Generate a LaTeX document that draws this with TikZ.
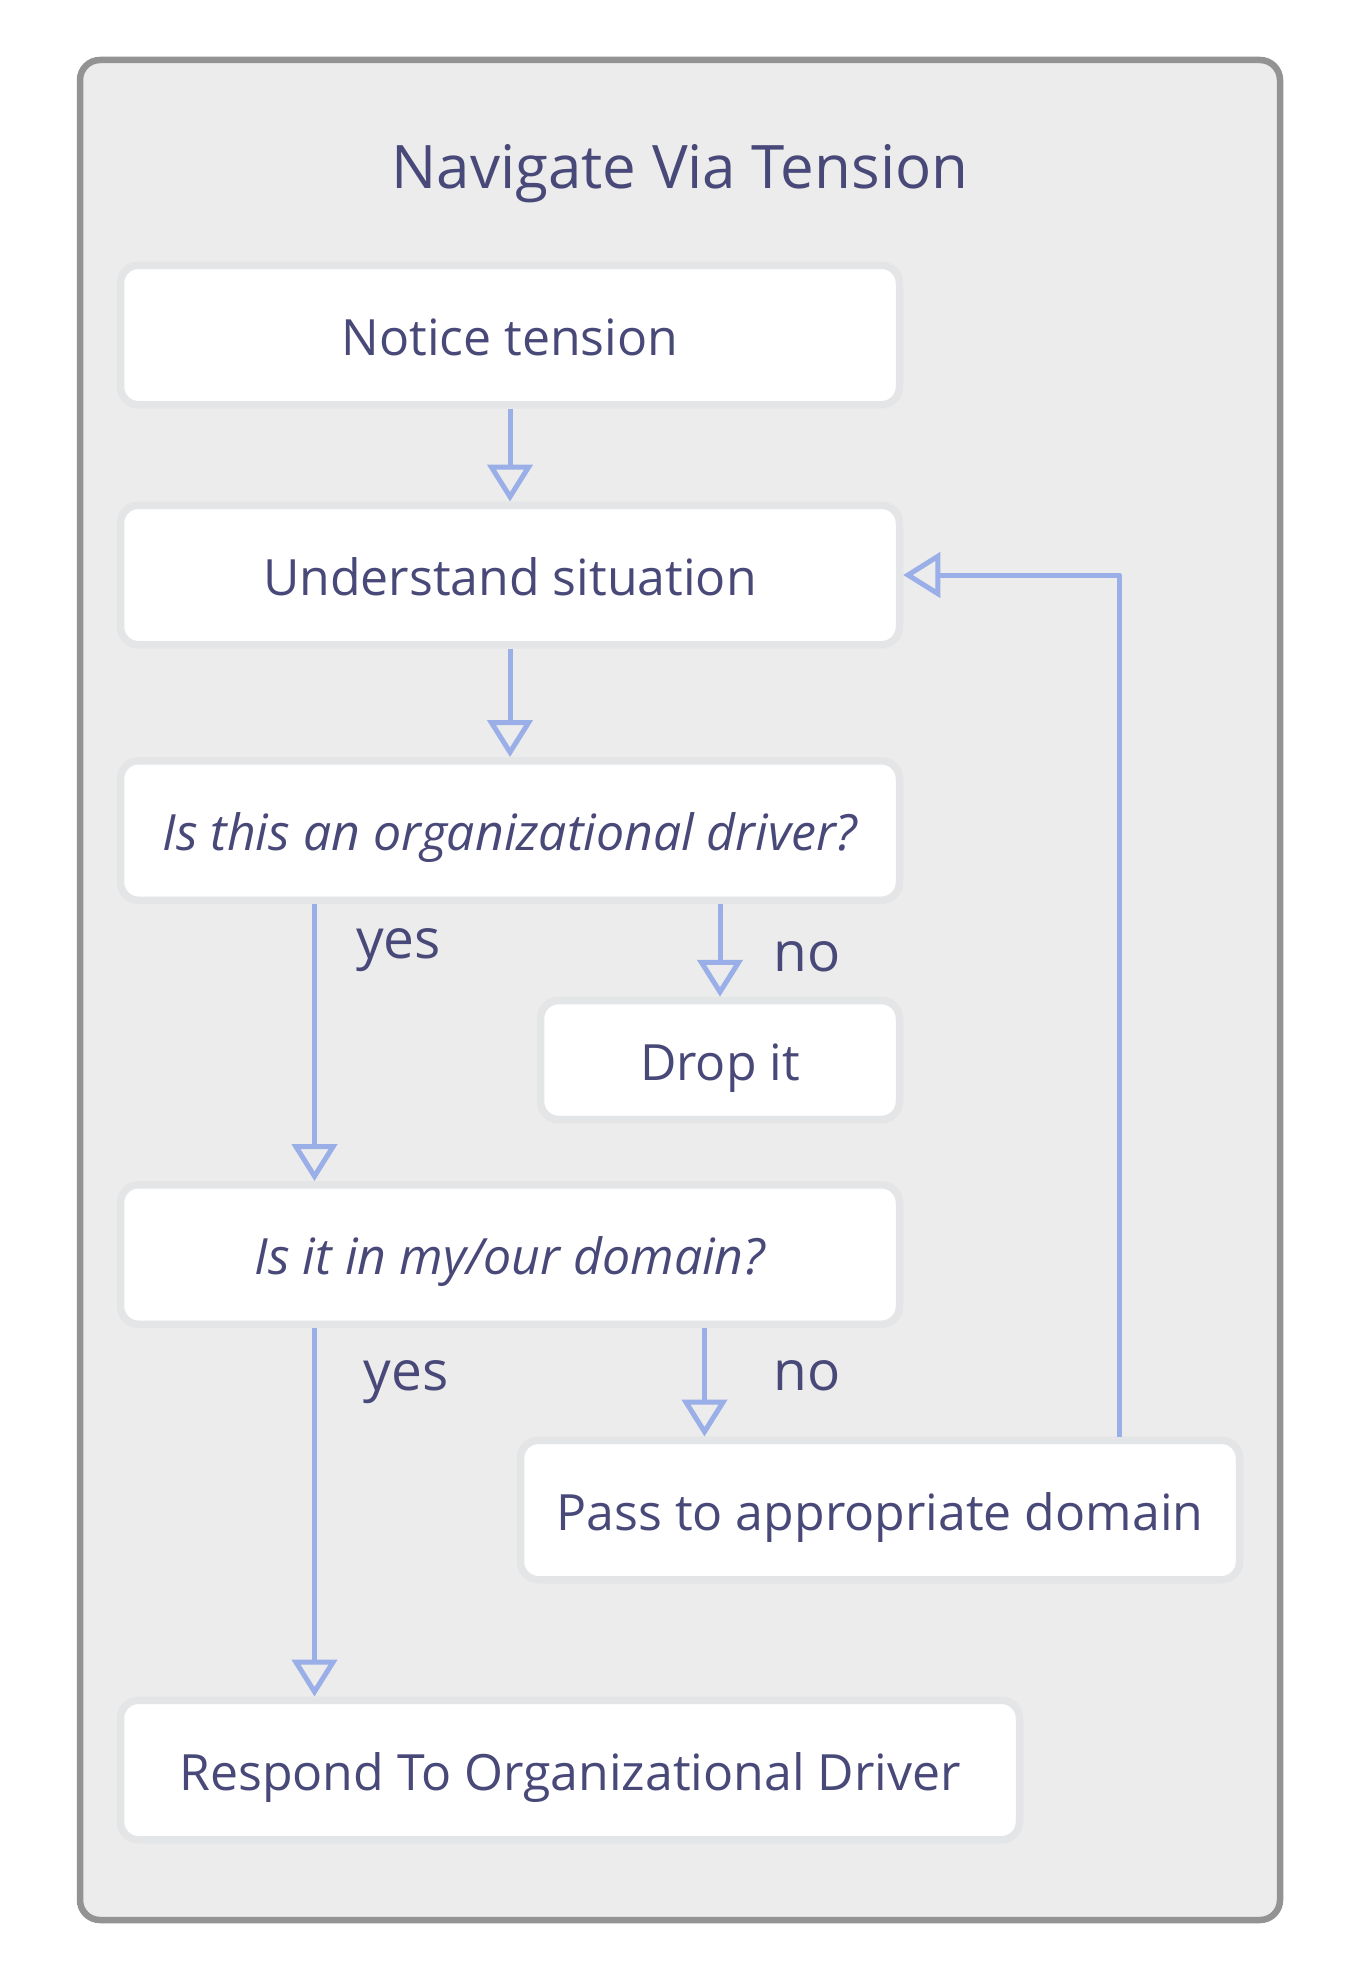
\documentclass[tikz,border=0pt]{standalone}
\usepackage{fontspec}
\setmainfont{Open Sans}
\usetikzlibrary{arrows.meta,calc}
\definecolor{txt}{HTML}{494979}
\definecolor{arrc}{HTML}{9AAEE8}
\definecolor{framefill}{HTML}{ECECEC}
\definecolor{framedraw}{HTML}{939393}
\definecolor{boxline}{HTML}{E4E5E7}
\tikzset{
  stepbox/.style={draw=boxline, fill=white, line width=7.5pt, rounded corners=18pt,
    inner sep=0pt, minimum height=139.5pt, text=txt,
    font=\fontsize{50}{60}\selectfont, text height=40pt, text depth=0pt},
  qbox/.style={stepbox, font=\fontsize{50}{60}\selectfont\itshape},
  arr/.style={draw=arrc, line width=5pt, line join=round,
    -{Triangle[open, length=37pt, width=45pt]}},
  lbl/.style={text=txt, font=\fontsize{55}{66}\selectfont, anchor=base, inner sep=0pt},
}
\begin{document}
\begin{tikzpicture}[x=1pt,y=-1pt]
\useasboundingbox (0,0) rectangle (1360,1980);
\fill[white] (0,0) rectangle (1360,1980);
\draw[framedraw, fill=framefill, line width=6.5pt, rounded corners=20pt] (80,60) rectangle (1280,1920);
\node[text=txt, font=\fontsize{60}{72}\selectfont, anchor=base, inner sep=0pt] (title) at (680,189) {Navigate Via Tension};

\node[stepbox, minimum width=779pt] (notice) at (510,335) {Notice tension};
\node[stepbox, minimum width=779pt] (understand) at (510,575) {Understand situation};
\node[qbox, minimum width=779pt] (q1) at (510,830.5) {Is this an organizational driver?};
\node[stepbox, minimum width=359pt, minimum height=119pt] (drop) at (720,1060) {Drop it};
\node[qbox, minimum width=779pt] (q2) at (510,1254.5) {Is it in my/our domain?};
\node[stepbox, minimum width=719pt] (pass) at (880,1510) {Pass to appropriate domain};
\node[stepbox, minimum width=899pt] (respond) at (570,1770) {Respond To Organizational Driver};

\coordinate (yesx) at (314.5,0);
\coordinate (nox) at (704.5,0);
\coordinate (fbx) at (1119.5,0);

\draw[arr] (notice) -- (understand);
\draw[arr] (understand) -- (q1);
\draw[arr] (q1.south -| yesx) -- (q2.north -| yesx);
\draw[arr] (q1.south -| drop.north) -- (drop.north);
\draw[arr] (q2.south -| yesx) -- (respond.north -| yesx);
\draw[arr] (q2.south -| nox) -- (pass.north -| nox);
\draw[arr] (pass.north -| fbx) |- (understand.east);

\node[lbl] (yes1) at (398.5,958.5) {yes};
\node[lbl] (no1) at (807,971) {no};
\node[lbl] (yes2) at (406,1390.5) {yes};
\node[lbl] (no2) at (807,1390) {no};
\end{tikzpicture}
\end{document}
